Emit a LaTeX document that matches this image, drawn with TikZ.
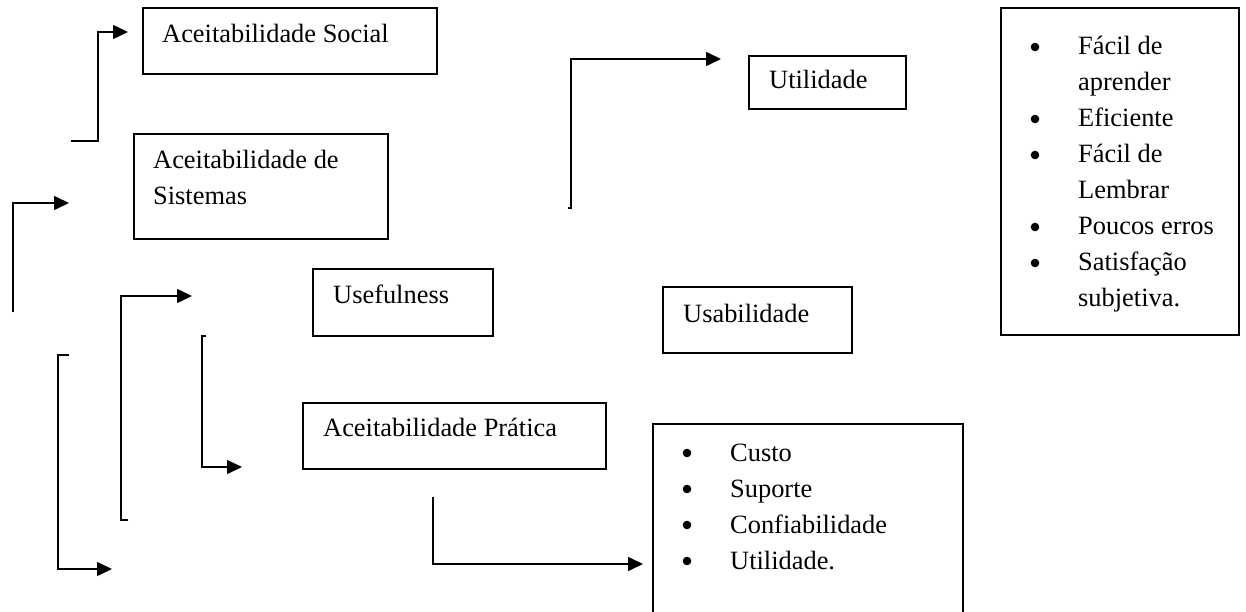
\documentclass[tikz,border=0pt]{standalone}
\usepackage{fontspec}
\setmainfont{Liberation Serif}
\usetikzlibrary{arrows.meta}
\begin{document}
\begin{tikzpicture}[x=1pt,y=-1pt,
  box/.style={draw=black, line width=1.6pt, anchor=north west, inner sep=0pt},
  txt/.style={anchor=base west, inner sep=0pt, font=\fontsize{26.4}{36}\selectfont},
  arr/.style={line width=1.6pt, -{Triangle[length=15pt,width=14pt]}},
  dot/.style={fill=black, radius=4.3pt}]
\clip (0,0) rectangle (1246,612);
\useasboundingbox (0,0) rectangle (1246,612);
\fill[white] (0,0) rectangle (1246,612);
% boxes
\node[box, minimum width=294pt, minimum height=66pt] (soc) at (142,7) {};
\node[txt] (socT) at (162,43) {Aceitabilidade Social};
\node[box, minimum width=254pt, minimum height=105pt] (sis) at (133,133) {};
\node[txt] (sisT) at (153,169) {\begin{tabular}[t]{@{}l@{}}Aceitabilidade de\\Sistemas\end{tabular}};
\node[box, minimum width=180pt, minimum height=67pt] (usef) at (312,268) {};
\node[txt] (usefT) at (333,303) {Usefulness};
\node[box, minimum width=303pt, minimum height=66pt] (prat) at (302,402) {};
\node[txt] (pratT) at (323,436) {Aceitabilidade Prática};
\node[box, minimum width=157pt, minimum height=53pt] (util) at (748,55) {};
\node[txt] (utilT) at (769,89) {Utilidade};
\node[box, minimum width=189pt, minimum height=66pt] (usab) at (662,286) {};
\node[txt] (usabT) at (683,322) {Usabilidade};
\node[box, minimum width=310pt, minimum height=230pt] (custo) at (652,423) {};
\node[txt] (custoT) at (730,461) {\begin{tabular}[t]{@{}l@{}}Custo\\Suporte\\Confiabilidade\\Utilidade.\end{tabular}};
\foreach \y in {453,489,525,561} \fill[dot] (687,\y) circle;
\node[box, minimum width=238pt, minimum height=327pt] (list) at (1000,7) {};
\node[txt] (listT) at (1078,55) {\begin{tabular}[t]{@{}l@{}}Fácil de\\aprender\\Eficiente\\Fácil de\\Lembrar\\Poucos erros\\Satisfação\\subjetiva.\end{tabular}};
\foreach \y in {47,119,155,227,263} \fill[dot] (1035,\y) circle;
% connector ends
\coordinate (a1s) at (71,141);  \coordinate (a1e) at (128,32);
\coordinate (a2s) at (13,312);  \coordinate (a2e) at (69,203);
\coordinate (a3s) at (128,520); \coordinate (a3e) at (192,296);
\coordinate (a4s) at (206,336); \coordinate (a4e) at (242,467);
\coordinate (a5s) at (69,355);  \coordinate (a5e) at (112,569);
\coordinate (a6s) at (433,497); \coordinate (a6e) at (643,564);
\coordinate (a7s) at (568,208); \coordinate (a7e) at (721,59);
% connectors
\draw[arr] (a1s) -- ++(27,0) |- (a1e);
\draw[arr] (a2s) |- (a2e);
\draw[arr] (a3s) -- ++(-7,0) |- (a3e);
\draw[arr] (a4s) -- ++(-4,0) |- (a4e);
\draw[arr] (a5s) -- ++(-11,0) |- (a5e);
\draw[arr] (a6s) |- (a6e);
\draw[arr] (a7s) -- ++(3,0) |- (a7e);
\end{tikzpicture}
\end{document}
